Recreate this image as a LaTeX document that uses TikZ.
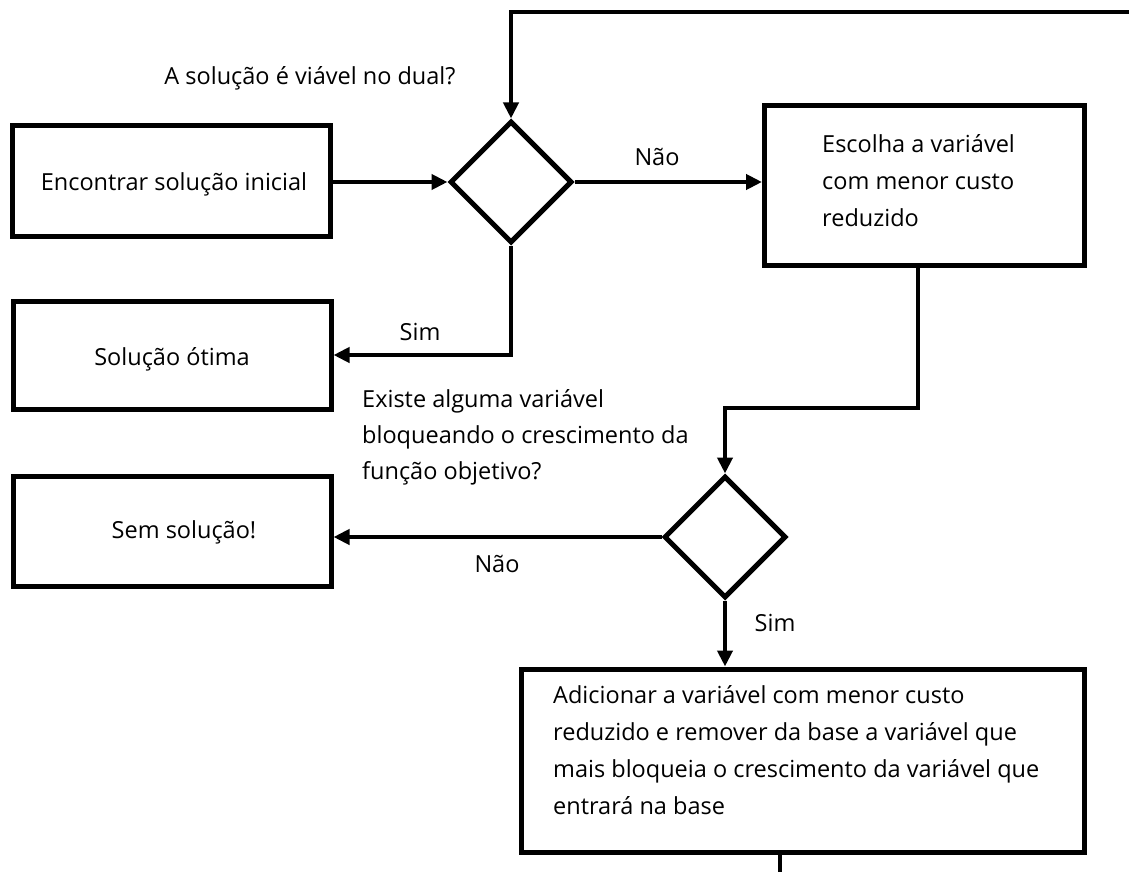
\documentclass[tikz,border=0pt]{standalone}
\usepackage{fontspec}
\setmainfont{Open Sans}
\usetikzlibrary{shapes.geometric,arrows.meta,calc}
\begin{document}
\begin{tikzpicture}[x=1pt,y=-1pt,
  box/.style={draw,line width=5pt,rectangle,inner sep=0pt},
  dec/.style={draw,line width=5pt,diamond,aspect=1,minimum width=122pt,minimum height=122pt,inner sep=0pt},
  arr/.style={line width=4pt,-{Triangle[length=16pt,width=15pt]}},
  ln/.style={line width=4pt},
  txt/.style={font=\fontsize{23.5}{37}\selectfont,inner sep=0pt},
  lbl/.style={font=\fontsize{23.5}{36}\selectfont,inner sep=0pt,align=left}]
\useasboundingbox (0,0) rectangle (1129,872);
\fill[white] (0,0) rectangle (1129,872);
% boxes
\node[box,minimum width=318pt,minimum height=110pt] (b1) at (171,181) {};
\node[txt] (t1) at (174,184) {Encontrar solução inicial};
\node[box,minimum width=320pt,minimum height=159pt] (b2) at (924.5,185.5) {};
\node[txt,align=left,anchor=north west] (t2) at (822,134) {Escolha a variável\\com menor custo\\reduzido};
\node[box,minimum width=318pt,minimum height=108pt] (b3) at (172,355) {};
\node[txt] (t3) at (172,359) {Solução ótima};
\node[box,minimum width=318pt,minimum height=110pt] (b4) at (172,531) {};
\node[txt] (t4) at (184,532) {Sem solução!};
\node[box,minimum width=563pt,minimum height=183pt] (b5) at (802.5,760.5) {};
\node[txt,align=left,anchor=north west] (t5) at (553,685) {Adicionar a variável com menor custo\\reduzido e remover da base a variável que\\mais bloqueia o crescimento da variável que\\entrará na base};
% diamonds
\node[dec] (d1) at (511,182) {};
\node[dec] (d2) at (725,537) {};
% labels
\node[lbl] (q1) at (310,78) {A solução é viável no dual?};
\node[lbl,anchor=north west] (q2) at (362,389) {Existe alguma variável\\bloqueando o crescimento da\\função objetivo?};
\node[lbl] (n1) at (657,157) {Não};
\node[lbl] (s1) at (420,332) {Sim};
\node[lbl] (n2) at (497,564) {Não};
\node[lbl] (s2) at (775,623) {Sim};
% connectors
\coordinate (tr) at (1129,12);
\coordinate (bot) at (780,872);
\coordinate (m2) at (820,408);
\draw[arr] (d1.west -| b1.east) -- (d1.west);
\draw[arr] (d1.east) -- (d1.east -| b2.west);
\draw[arr] (tr) -| (d1.north);
\draw[arr] (d1.south) |- (b3.east);
\draw[arr] (b2.south -| 918,0) |- (m2) -| (d2.north);
\draw[arr] (d2.west) -- (d2.west -| b4.east);
\draw[arr] (d2.south) -- (b5.north -| d2.south);
\draw[ln] (bot |- b5.south) -- (bot);
\end{tikzpicture}
\end{document}
